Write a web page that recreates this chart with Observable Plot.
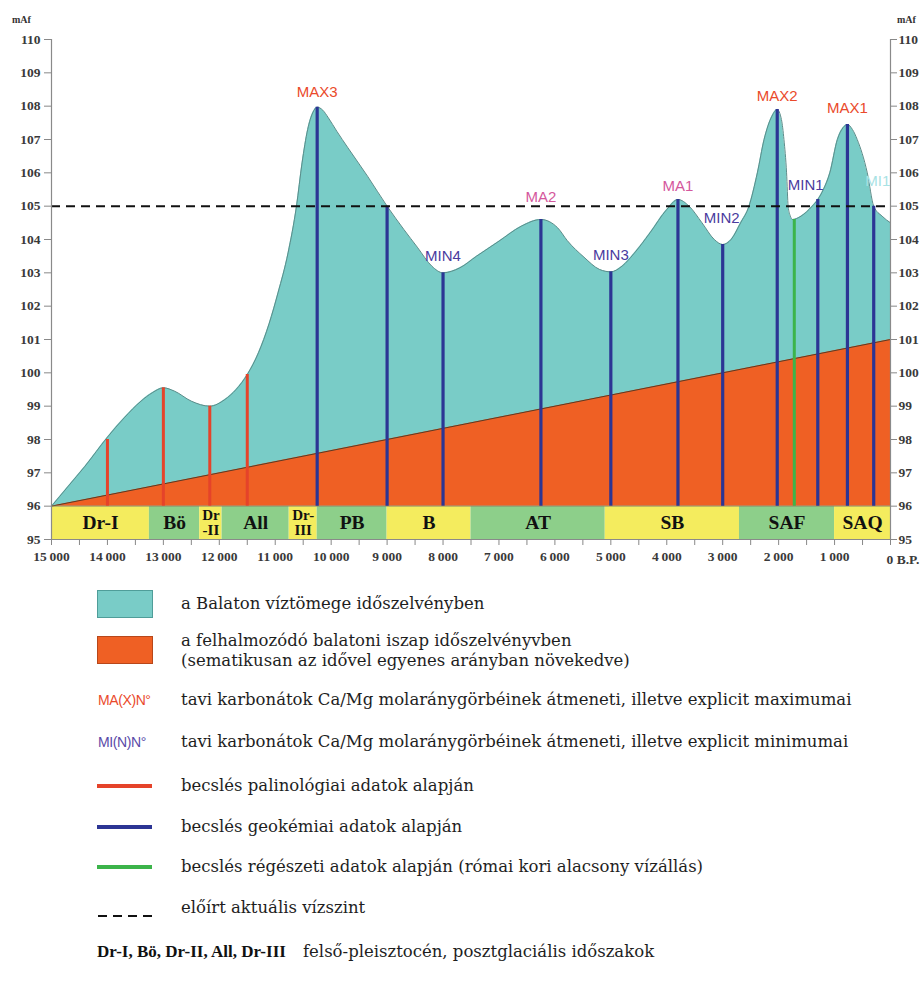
<!DOCTYPE html>
<html>
<head>
<meta charset="utf-8">
<script src="https://cdn.jsdelivr.net/npm/d3@7"></script>
<script src="https://cdn.jsdelivr.net/npm/@observablehq/plot@0.6"></script>
<style>
  body { margin: 0; background: #fff; }
  #wrap { position: relative; width: 921px; height: 1006px; background: #fff; overflow: hidden; }
  #chart { position: absolute; left: 0; top: 0; }
  #chart svg g[aria-label$="tick label"] { font-family: "Liberation Serif", serif; font-weight: bold; font-size: 13.5px; fill: #3a3a3a; }
  .abs { position: absolute; white-space: nowrap; }
  .unit { font: bold 10px "Liberation Serif", serif; color: #333; }
  .lg { font: 16.5px "DejaVu Serif", serif; color: #1e1e1e; line-height: 20px; }
  .code { font: 14px "Liberation Sans Narrow", "Liberation Sans", Arial, sans-serif; letter-spacing: -0.4px; }
</style>
</head>
<body>
<div id="wrap">
  <div id="chart"></div>
</div>
<script>
// ---------------- data ----------------
const waterYears  = [15000, 14700, 14400, 14000, 13700, 13400, 13200, 13000, 12800, 12500, 12170, 11900, 11700, 11500, 11300, 11110, 10950, 10770, 10620, 10520, 10420, 10330, 10250, 10150, 10050, 9900, 9700, 9350, 9000, 8700, 8460, 8200, 8000, 7700, 7400, 7000, 6600, 6250, 5950, 5780, 5480, 5200, 5000, 4800, 4590, 4300, 4000, 3800, 3600, 3370, 3150, 3000, 2850, 2680, 2530, 2380, 2260, 2120, 2025, 1950, 1905, 1858, 1830, 1790, 1750, 1600, 1400, 1300, 1200, 1085, 950, 850, 770, 680, 595, 415, 300, 150, 0];
const waterLevels = [96.0, 96.6, 97.2, 98.07, 98.65, 99.15, 99.4, 99.55, 99.45, 99.15, 99.0, 99.2, 99.5, 99.95, 100.6, 101.47, 102.4, 103.6, 105.0, 106.3, 107.3, 107.8, 107.97, 107.88, 107.65, 107.25, 106.75, 105.9, 105.0, 104.3, 103.77, 103.2, 103.0, 103.15, 103.5, 103.95, 104.4, 104.6, 104.35, 103.97, 103.47, 103.1, 103.03, 103.2, 103.57, 104.2, 104.9, 105.2, 105.0, 104.5, 104.0, 103.85, 104.0, 104.5, 105.0, 106.0, 107.0, 107.7, 107.9, 107.6, 107.0, 106.0, 105.0, 104.7, 104.6, 104.7, 105.0, 105.2, 105.5, 106.0, 107.0, 107.35, 107.45, 107.3, 107.0, 106.0, 105.0, 104.7, 104.5];

const sedimentYears  = [15000, 0];
const sedimentLevels = [96, 101];

const periodNames  = ["Dr-I", "Bö", "Dr\n-II", "All", "Dr-\nIII", "PB", "B", "AT", "SB", "SAF", "SAQ"];
const periodStarts = [15000, 13250, 12350, 11950, 10750, 10250, 9000, 7500, 5100, 2700, 1000];
const periodEnds   = [13250, 12350, 11950, 10750, 10250, 9000, 7500, 5100, 2700, 1000, 0];

const palYears  = [14000, 13000, 12170, 11500];          // palinológiai becslés
const palTops   = [98.0, 99.55, 99.0, 99.95];
const geoYears  = [10250, 9000, 8000, 6250, 5000, 3800, 3000, 2025, 1300, 770, 300]; // geokémiai
const geoTops   = [107.97, 105.0, 103.0, 104.6, 103.03, 105.2, 103.85, 107.9, 105.2, 107.45, 105.0];
const archYears = [1720];                                  // régészeti
const archTops  = [104.6];

const markerNames = ["MAX3", "MIN4", "MA2", "MIN3", "MA1", "MIN2", "MAX2", "MIN1", "MAX1", "MI1"];
const markerYears = [10250, 8000, 6250, 5000, 3800, 3000, 2025, 1300, 770, 300];

const presentLevel = 105;
const yTicks = d3.range(95, 111, 1);
const xTicks = d3.range(0, 15001, 500);

// ---------------- styles ----------------
const TEAL = "#79ccc7", ORANGE = "#ef6024", YELLOW = "#f4ec5e", GREEN = "#8dcf8a";
const RED = "#e5432a", BLUE = "#2c3594", ARCH = "#3cb44a";
const labelColor = n => n.startsWith("MAX") ? "#ea4a2b" : n.startsWith("MA") ? "#d4579c" : n === "MI1" ? "#a8e2e4" : "#4a3b9e";
const labelOffset = {MAX3:[0,-15], MIN4:[0,-17], MA2:[0,-22], MIN3:[0,-17], MA1:[0,-13], MIN2:[-1,-26], MAX2:[0,-13], MIN1:[-12,-14], MAX1:[0,-16], MI1:[4,-25]};

// ---------------- tables ----------------
const water = waterYears.map((x, i) => ({x, y: waterLevels[i]}));
const sediment = sedimentYears.map((x, i) => ({x, y: sedimentLevels[i]}));
const periods = periodNames.map((name, i) => ({name, x1: periodStarts[i], x2: periodEnds[i], kind: i % 2}));
const pal = palYears.map((x, i) => ({x, y: palTops[i]}));
const geo = geoYears.map((x, i) => ({x, y: geoTops[i]}));
const arch = archYears.map((x, i) => ({x, y: archTops[i]}));
const markers = markerNames.map((name, i) => ({name, x: markerYears[i], y: geoTops[geoYears.indexOf(markerYears[i])]}));

const fmtX = d => (d === 0 || d % 1000) ? "" : d3.format(",")(d).replace(/,/g, "\u2009");
const sansLabel = `"Liberation Sans Narrow", "Liberation Sans", Arial, sans-serif`;
const serifBold = `"Liberation Serif", serif`;

const plot = Plot.plot({
  width: 921, height: 580,
  marginLeft: 51, marginRight: 31, marginTop: 39, marginBottom: 41,
  x: {domain: [15000, 0], label: null},
  y: {domain: [95, 110], label: null},
  style: {background: "transparent", overflow: "visible"},
  marks: [
    Plot.rect(periods, {x1: "x1", x2: "x2", y1: 95, y2: 96, fill: d => d.kind ? GREEN : YELLOW}),
    Plot.areaY(water, {x: "x", y1: 96, y2: "y", curve: "monotone-x", fill: TEAL}),
    Plot.line(water, {x: "x", y: "y", curve: "monotone-x", stroke: "#5b8c89", strokeWidth: 1}),
    Plot.areaY(sediment, {x: "x", y1: 96, y2: "y", fill: ORANGE}),
    Plot.line(sediment, {x: "x", y: "y", stroke: "#5a3b25", strokeWidth: 1}),
    Plot.ruleY([96], {stroke: "#8a8a6a", strokeWidth: 0.8}),
    Plot.ruleX(pal, {x: "x", y1: 96, y2: "y", stroke: RED, strokeWidth: 3}),
    Plot.ruleX(geo, {x: "x", y1: 96, y2: "y", stroke: BLUE, strokeWidth: 3.2}),
    Plot.ruleX(arch, {x: "x", y1: 96, y2: "y", stroke: ARCH, strokeWidth: 3}),
    Plot.ruleY([presentLevel], {stroke: "#111", strokeWidth: 2, strokeDasharray: "9,6"}),
    ...markers.map(m => Plot.text([m], {
      x: "x", y: "y", text: "name", fill: labelColor(m.name),
      dx: labelOffset[m.name][0], dy: labelOffset[m.name][1],
      fontSize: 15, fontFamily: sansLabel
    })),
    Plot.text(periods, {
      x: d => (d.x1 + d.x2) / 2, y: 95.5, text: "name",
      fontFamily: serifBold, fontWeight: "bold",
      fontSize: d => d.name.includes("\n") ? 15 : 19.5, lineHeight: 0.95, fill: "#111"
    }),
    Plot.ruleX([15000, 0], {y1: 95, y2: 110, stroke: "#8a8a8a", strokeWidth: 1.2}),
    Plot.ruleY([95], {stroke: "#8a8a8a", strokeWidth: 1.2}),
    Plot.axisY({anchor: "left", ticks: yTicks, tickSize: 7, tickPadding: 4, tickFormat: d => String(d), stroke: "#888", label: null}),
    Plot.axisY({anchor: "right", ticks: yTicks, tickSize: 6, tickPadding: 2, tickFormat: d => String(d), stroke: "#888", label: null}),
    Plot.axisX({anchor: "bottom", ticks: xTicks, tickSize: 6, tickPadding: 6, tickFormat: fmtX, stroke: "#888", label: null}),
    Plot.text([0], {x: d => d, y: 95, text: () => "0 B.P.", textAnchor: "start", dx: -4, dy: 20,
      fontFamily: serifBold, fontWeight: "bold", fontSize: 13.5, fill: "#3a3a3a"})
  ]
});
document.getElementById("chart").appendChild(plot);

// ---------------- legend & units ----------------
const wrap = document.getElementById("wrap");
function add(html, left, top, cls, extra) {
  const d = document.createElement("div");
  d.className = "abs " + (cls || "");
  d.style.left = left + "px"; d.style.top = top + "px";
  if (extra) Object.assign(d.style, extra);
  d.innerHTML = html;
  wrap.appendChild(d);
  return d;
}
add("mAf", 12, 14, "unit");
add("mAf", 897, 14, "unit");

const legendTexts = [
  "a Balaton víztömege időszelvényben",
  "a felhalmozódó balatoni iszap időszelvényvben<br>(sematikusan az idővel egyenes arányban növekedve)",
  "tavi karbonátok Ca/Mg molaránygörbéinek átmeneti, illetve explicit maximumai",
  "tavi karbonátok Ca/Mg molaránygörbéinek átmeneti, illetve explicit minimumai",
  "becslés palinológiai adatok alapján",
  "becslés geokémiai adatok alapján",
  "becslés régészeti adatok alapján (római kori alacsony vízállás)",
  "előírt aktuális vízszint"
];
const legendTops = [594, 631, 690, 732, 776, 817, 857, 898];

add("", 97, 590, "", {width: "54px", height: "26px", background: TEAL, border: "1px solid #4f9d99"});
add("", 97, 636, "", {width: "54px", height: "26px", background: ORANGE, border: "1px solid #b8471a"});
add("MA(X)N°", 98, 690, "code", {color: "#ea4a2b", lineHeight: "20px"});
add("MI(N)N°", 98, 732, "code", {color: "#5a49a8", lineHeight: "20px"});
add("", 97, 784, "", {width: "55px", height: "4px", background: RED});
add("", 97, 825, "", {width: "55px", height: "4px", background: BLUE});
add("", 97, 865, "", {width: "55px", height: "4px", background: ARCH});
add('<svg width="56" height="6"><line x1="0" y1="3" x2="56" y2="3" stroke="#111" stroke-width="2" stroke-dasharray="9,6"/></svg>', 98, 905, "");
legendTexts.forEach((t, i) => add(t, 181, legendTops[i], "lg"));
add("Dr-I, Bö, Dr-II, All, Dr-III", 97, 941, "", {font: "bold 17px 'Liberation Serif', serif", color: "#111", lineHeight: "22px"});
add("felső-pleisztocén, posztglaciális időszakok", 303, 942, "lg");
</script>
</body>
</html>
